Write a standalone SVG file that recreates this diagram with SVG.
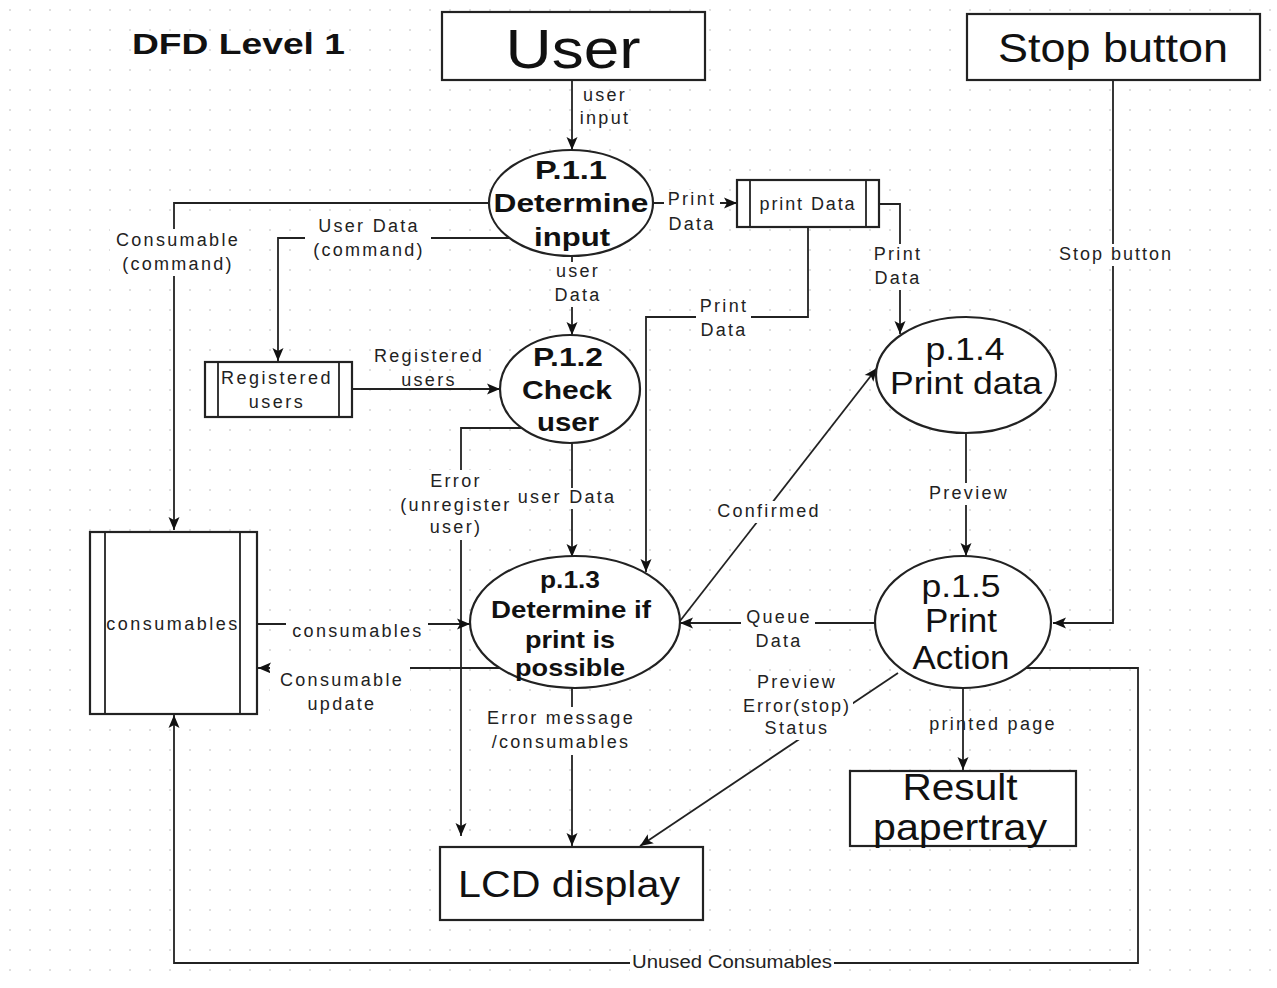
<svg xmlns="http://www.w3.org/2000/svg" width="1277" height="988" viewBox="0 0 1277 988">
<defs>
<pattern id="grid" width="20" height="20" patternUnits="userSpaceOnUse">
<circle cx="10" cy="10" r="1" fill="#d4d4d4"/>
</pattern>
<marker id="arr" markerUnits="userSpaceOnUse" markerWidth="14" markerHeight="12" refX="13" refY="6" orient="auto">
<path d="M0,0.5 L13,6 L0,11.5 L3,6 z" fill="#111"/>
</marker>
<style>
.shape{fill:#fff;stroke:#222;stroke-width:2.2}
.line{fill:none;stroke:#222;stroke-width:1.8}
.arw{marker-end:url(#arr)}
.bg{fill:#fff}
.lbl{font-family:"Liberation Sans",Arial,sans-serif;font-size:18px;letter-spacing:2.3px;text-anchor:middle;fill:#222}
.st{font-family:"Liberation Sans",Arial,sans-serif;font-size:18px;letter-spacing:2.5px;text-anchor:middle;fill:#222}
.big{font-family:"Liberation Sans",Arial,sans-serif;text-anchor:middle;fill:#111}
.bold{font-weight:bold}
</style>
</defs>
<rect x="0" y="0" width="1277" height="988" fill="#fff"/>
<rect x="0" y="0" width="1277" height="988" fill="url(#grid)"/>

<text x="132" y="54" class="big bold" style="text-anchor:start" font-size="30" textLength="213" lengthAdjust="spacingAndGlyphs">DFD Level 1</text>

<text class="lbl" x="993" y="730">printed page</text>

<g id="connectors">
<path class="line arw" d="M572,80 V150"/>
<path class="line arw" d="M652,203 H737"/>
<path class="line arw" d="M879,204 H900 V334"/>
<path class="line arw" d="M808,227 V317 H646 V572"/>
<path class="line arw" d="M490,203 H174 V530"/>
<path class="line arw" d="M509,238 H278 V361"/>
<path class="line arw" d="M572,256 V335"/>
<path class="line arw" d="M352,389 H500"/>
<path class="line arw" d="M522,428 H461 V836"/>
<path class="line arw" d="M572,443 V557"/>
<path class="line arw" d="M257,624 H470"/>
<path class="line arw" d="M500,668 H258"/>
<path class="line arw" d="M572,688 V846"/>
<path class="line arw" d="M680,621 L877,368"/>
<path class="line arw" d="M966,433 V556"/>
<path class="line arw" d="M1113,80 V623 H1053"/>
<path class="line arw" d="M875,623 H680"/>
<path class="line arw" d="M898,673 L640,846"/>
<path class="line arw" d="M963,688 V770"/>
<path class="line arw" d="M1026,668 H1138 V963 H174 V715"/>
</g>

<g id="labels">
<text class="lbl" x="605" y="101">user</text>
<text class="lbl" x="605" y="124">input</text>

<rect class="bg" x="110" y="229" width="138" height="47"/>
<text class="lbl" x="178" y="246">Consumable</text>
<text class="lbl" x="178" y="270">(command)</text>

<rect class="bg" x="305" y="215" width="126" height="47"/>
<text class="lbl" x="369" y="232">User Data</text>
<text class="lbl" x="369" y="256">(command)</text>

<rect class="bg" x="664" y="190" width="56" height="46"/>
<text class="lbl" x="692" y="205">Print</text>
<text class="lbl" x="692" y="230">Data</text>

<rect class="bg" x="871" y="244" width="54" height="46"/>
<text class="lbl" x="898" y="260">Print</text>
<text class="lbl" x="898" y="284">Data</text>

<rect class="bg" x="696" y="296" width="55" height="46"/>
<text class="lbl" x="724" y="312">Print</text>
<text class="lbl" x="724" y="336">Data</text>

<rect class="bg" x="551" y="262" width="52" height="45"/>
<text class="lbl" x="578" y="277">user</text>
<text class="lbl" x="578" y="301">Data</text>

<text class="lbl" x="429" y="362">Registered</text>
<text class="lbl" x="429" y="386">users</text>

<rect class="bg" x="396" y="470" width="118" height="70"/>
<text class="lbl" x="456" y="487">Error</text>
<text class="lbl" x="456" y="511">(unregister</text>
<text class="lbl" x="456" y="533">user)</text>

<rect class="bg" x="515" y="488" width="102" height="21"/>
<text class="lbl" x="567" y="503">user Data</text>

<rect class="bg" x="286" y="622" width="142" height="21"/>
<text class="lbl" x="358" y="637">consumables</text>

<rect class="bg" x="270" y="665" width="140" height="51"/>
<text class="lbl" x="342" y="686">Consumable</text>
<text class="lbl" x="342" y="710">update</text>

<rect class="bg" x="483" y="707" width="154" height="48"/>
<text class="lbl" x="561" y="724">Error message</text>
<text class="lbl" x="561" y="748">/consumables</text>

<rect class="bg" x="712" y="501" width="112" height="22"/>
<text class="lbl" x="769" y="517">Confirmed</text>

<rect class="bg" x="927" y="483" width="84" height="22"/>
<text class="lbl" x="969" y="499">Preview</text>

<rect class="bg" x="1055" y="244" width="120" height="22"/>
<text class="lbl" x="1116" y="260" style="letter-spacing:2px">Stop button</text>

<rect class="bg" x="741" y="607" width="74" height="45"/>
<text class="lbl" x="779" y="623">Queue</text>
<text class="lbl" x="779" y="647">Data</text>

<rect class="bg" x="740" y="672" width="113" height="68"/>
<text class="lbl" x="797" y="688">Preview</text>
<text class="lbl" x="797" y="712" style="letter-spacing:2px">Error(stop)</text>
<text class="lbl" x="797" y="734">Status</text>

<rect class="bg" x="630" y="954" width="204" height="18"/>
<text class="lbl" x="732" y="968" font-size="16" style="letter-spacing:0" textLength="200" lengthAdjust="spacingAndGlyphs">Unused Consumables</text>
</g>

<g id="user">
<rect class="shape" x="442" y="12" width="263" height="68"/>
<text class="big" x="573" y="68" font-size="56" textLength="135" lengthAdjust="spacingAndGlyphs">User</text>
</g>

<g id="stop-button">
<rect class="shape" x="967" y="14" width="293" height="66"/>
<text class="big" x="1113" y="62" font-size="40" textLength="230" lengthAdjust="spacingAndGlyphs">Stop button</text>
</g>

<g id="p11">
<ellipse class="shape" cx="571" cy="203" rx="82" ry="53"/>
<text class="big bold" x="571" y="179" font-size="26" textLength="72" lengthAdjust="spacingAndGlyphs">P.1.1</text>
<text class="big bold" x="571" y="212" font-size="26" textLength="155" lengthAdjust="spacingAndGlyphs">Determine</text>
<text class="big bold" x="572" y="246" font-size="26" textLength="76" lengthAdjust="spacingAndGlyphs" fill="#201020">input</text>
</g>

<g id="print-data-store">
<rect class="shape" x="737" y="180" width="142" height="47"/>
<line class="line" x1="750" y1="180" x2="750" y2="227"/>
<line class="line" x1="866" y1="180" x2="866" y2="227"/>
<text class="st" x="808" y="210" font-size="17" style="letter-spacing:1.9px">print Data</text>
</g>

<g id="registered-users">
<rect class="shape" x="205" y="362" width="147" height="55"/>
<line class="line" x1="218" y1="362" x2="218" y2="417"/>
<line class="line" x1="339" y1="362" x2="339" y2="417"/>
<text class="st" x="277" y="384">Registered</text>
<text class="st" x="277" y="408">users</text>
</g>

<g id="p12">
<ellipse class="shape" cx="570" cy="389" rx="70" ry="54"/>
<text class="big bold" x="568" y="366" font-size="26" textLength="70" lengthAdjust="spacingAndGlyphs">P.1.2</text>
<text class="big bold" x="567" y="399" font-size="26" textLength="90" lengthAdjust="spacingAndGlyphs">Check</text>
<text class="big bold" x="568" y="431" font-size="26" textLength="62" lengthAdjust="spacingAndGlyphs">user</text>
</g>

<g id="consumables">
<rect class="shape" x="90" y="532" width="167" height="182"/>
<line class="line" x1="105" y1="532" x2="105" y2="714"/>
<line class="line" x1="240" y1="532" x2="240" y2="714"/>
<text class="st" x="173" y="630">consumables</text>
</g>

<g id="p13">
<ellipse class="shape" cx="575" cy="622" rx="105" ry="66"/>
<text class="big bold" x="570" y="588" font-size="24" textLength="60" lengthAdjust="spacingAndGlyphs">p.1.3</text>
<text class="big bold" x="571" y="618" font-size="24" textLength="160" lengthAdjust="spacingAndGlyphs">Determine if</text>
<text class="big bold" x="570" y="648" font-size="24" textLength="90" lengthAdjust="spacingAndGlyphs">print is</text>
<text class="big bold" x="570" y="676" font-size="24" textLength="110" lengthAdjust="spacingAndGlyphs">possible</text>
</g>

<g id="p14">
<ellipse class="shape" cx="966" cy="375" rx="90" ry="58"/>
<text class="big" x="965" y="360" font-size="32" textLength="79" lengthAdjust="spacingAndGlyphs">p.1.4</text>
<text class="big" x="966" y="394" font-size="32" textLength="152" lengthAdjust="spacingAndGlyphs">Print data</text>
</g>

<g id="p15">
<ellipse class="shape" cx="963" cy="622" rx="88" ry="66"/>
<text class="big" x="961" y="597" font-size="32" textLength="79" lengthAdjust="spacingAndGlyphs">p.1.5</text>
<text class="big" x="961" y="632" font-size="34" textLength="72" lengthAdjust="spacingAndGlyphs">Print</text>
<text class="big" x="961" y="669" font-size="34" textLength="97" lengthAdjust="spacingAndGlyphs">Action</text>
</g>

<g id="lcd-display">
<rect class="shape" x="440" y="847" width="263" height="73"/>
<text class="big" x="569" y="897" font-size="36" textLength="222" lengthAdjust="spacingAndGlyphs">LCD display</text>
</g>

<g id="result-papertray">
<rect class="shape" x="850" y="771" width="226" height="75"/>
<text class="big" x="960" y="800" font-size="36" textLength="115" lengthAdjust="spacingAndGlyphs">Result</text>
<text class="big" x="960" y="840" font-size="36" textLength="174" lengthAdjust="spacingAndGlyphs">papertray</text>
</g>
</svg>
